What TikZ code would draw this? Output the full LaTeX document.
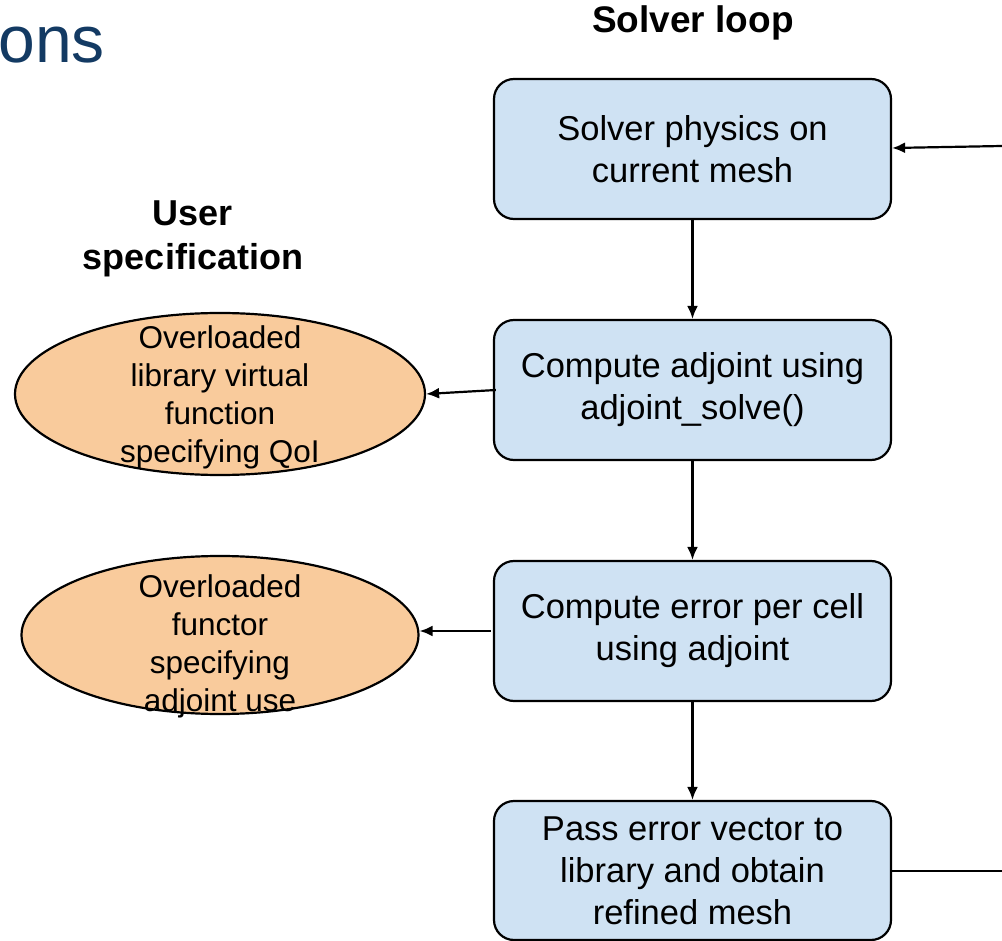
\documentclass[tikz,border=0pt]{standalone}
\usepackage{fontspec}
\setmainfont{Liberation Sans}
\usetikzlibrary{shapes.geometric,arrows.meta}
\definecolor{boxfill}{HTML}{CFE2F3}
\definecolor{ovalfill}{HTML}{F9CB9C}
\definecolor{titleblue}{HTML}{133A63}
\tikzset{
  stepbox/.style={draw=black, line width=2.2pt, fill=boxfill, rounded corners=20pt,
    minimum width=397pt, minimum height=140pt, align=center, inner sep=0pt,
    font=\fontsize{34.5}{42}\selectfont},
  oval/.style={draw=black, line width=2.2pt, fill=ovalfill, ellipse, inner sep=0pt},
  ovaltext/.style={align=center, inner sep=0pt, font=\fontsize{31.5}{38}\selectfont},
  heading/.style={align=center, inner sep=0pt, font=\fontsize{36}{44}\selectfont\bfseries},
  flow/.style={draw=black, line width=2.2pt, -{Latex[length=13pt,width=11pt]}},
  link/.style={draw=black, line width=2.2pt}
}
\begin{document}
\begin{tikzpicture}[x=1pt,y=-1pt]
\useasboundingbox (0,0) rectangle (1002,941);

% partly visible slide title
\node[anchor=base east, inner sep=0pt, text=titleblue,
      font=\fontsize{66}{70}\selectfont] (title) at (105,63) {ons};

% column headings
\node[heading, font=\fontsize{37}{44}\selectfont\bfseries] (hsolver) at (693,23) {Solver loop};
\node[heading] (huser) at (193,239) {User\\specification};

% solver loop steps
\node[stepbox] (s1) at (692.5,149) {Solver physics on\\current mesh};
\node[stepbox] (s2) at (692.5,390) {Compute adjoint using\\adjoint\_solve()};
\node[stepbox] (s3) at (692.5,631) {Compute error per cell\\using adjoint};
\node[stepbox, minimum height=139pt] (s4) at (692.5,870.5) {Pass error vector to\\library and obtain\\refined mesh};

% user-supplied pieces
\node[oval, minimum width=410pt, minimum height=162pt] (u1) at (220,394) {};
\node[ovaltext] (u1t) at (220,397) {Overloaded\\library virtual\\function\\specifying QoI};
\node[oval, minimum width=397pt, minimum height=158pt] (u2) at (220,635) {};
\node[ovaltext] (u2t) at (220,646) {Overloaded\\functor\\specifying\\adjoint use};

% loop connectors
\coordinate (inR) at (1002,146);
\coordinate (outR) at (1002,871);
\draw[flow] (s1) -- (s2);
\draw[flow] (s2) -- (s3);
\draw[flow] (s3) -- (s4);
\draw[flow] ([xshift=3pt]s2.west) -- (u1.east);
\draw[flow] ([xshift=-2pt]s3.west) -- (u2.east |- s3.west);
\draw[flow] (inR) -- ([yshift=1pt]s1.east);
\draw[link] (s4.east |- outR) -- (outR);
\end{tikzpicture}
\end{document}
